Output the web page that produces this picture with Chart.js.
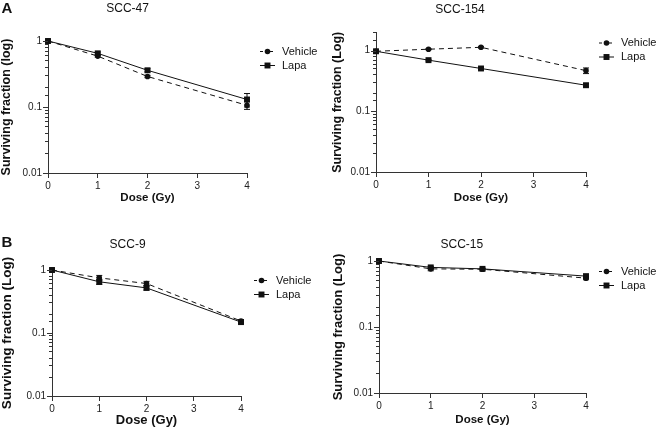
<!DOCTYPE html>
<html><head><meta charset="utf-8">
<script src="https://cdn.jsdelivr.net/npm/chart.js"></script>
<style>
html,body{margin:0;padding:0;background:#fff;}
#wrap{position:relative;width:660px;height:427px;overflow:hidden;}
#wrap canvas{position:absolute;left:0;top:0;}
</style></head><body>
<div id="wrap">
<canvas id="c0" width="660" height="427"></canvas>
<canvas id="c1" width="660" height="427"></canvas>
<canvas id="c2" width="660" height="427"></canvas>
<canvas id="c3" width="660" height="427"></canvas>
</div>
<script>
// ---- data ----
const doses = [0, 1, 2, 4];
const doseTicks = [0, 1, 2, 3, 4];
const seriesNames = ['Vehicle', 'Lapa'];
const panelTitles = ['SCC-47', 'SCC-154', 'SCC-9', 'SCC-15'];

const scc47Vehicle    = [1.00, 0.59, 0.29, 0.106];
const scc47VehicleErr = [0, 0.02, 0.012, 0.014];
const scc47Lapa       = [1.00, 0.65, 0.36, 0.13];
const scc47LapaErr    = [0, 0.03, 0.02, 0.03];

const scc154Vehicle    = [0.98, 1.06, 1.14, 0.47];
const scc154VehicleErr = [0, 0.02, 0.03, 0.05];
const scc154Lapa       = [0.98, 0.70, 0.51, 0.27];
const scc154LapaErr    = [0, 0.02, 0.02, 0.015];

const scc9Vehicle    = [1.00, 0.75, 0.61, 0.155];
const scc9VehicleErr = [0, 0.07, 0.05, 0.008];
const scc9Lapa       = [1.00, 0.65, 0.52, 0.149];
const scc9LapaErr    = [0, 0.06, 0.04, 0.008];

const scc15Vehicle    = [1.00, 0.76, 0.75, 0.55];
const scc15VehicleErr = [0, 0.05, 0.02, 0.03];
const scc15Lapa       = [1.00, 0.80, 0.76, 0.59];
const scc15LapaErr    = [0, 0.03, 0.02, 0.02];

// ---- layout / style ----
const FONT = "'Liberation Sans', Arial, Helvetica, sans-serif";
const INK = '#111';
const AXIS = '#333';

const panels = [
  {canvas:'c0', title:panelTitles[0], letter:'A', letterY:9, left:48, right:247, top:41, bottom:173, yMax:1, titleY:9,
   yTitle:'Surviving fraction (log)', yTitleSize:12.5, yTitleX:7, xTitleSize:11.5, xTitleY:198,
   veh:scc47Vehicle, vehErr:scc47VehicleErr, lapa:scc47Lapa, lapaErr:scc47LapaErr},
  {canvas:'c1', title:panelTitles[1], letter:null, left:376, right:586, top:32.5, bottom:172, yMax:2, titleY:10,
   yTitle:'Surviving fraction (Log)', yTitleSize:12.5, yTitleX:338, xTitleSize:11.5, xTitleY:198,
   veh:scc154Vehicle, vehErr:scc154VehicleErr, lapa:scc154Lapa, lapaErr:scc154LapaErr},
  {canvas:'c2', title:panelTitles[2], letter:'B', letterY:243, left:52, right:241, top:270, bottom:396, yMax:1, titleY:245,
   yTitle:'Surviving fraction (Log)', yTitleSize:13.5, yTitleX:7, xTitleSize:13, xTitleY:420,
   veh:scc9Vehicle, vehErr:scc9VehicleErr, lapa:scc9Lapa, lapaErr:scc9LapaErr},
  {canvas:'c3', title:panelTitles[3], letter:null, left:379, right:586, top:261, bottom:393, yMax:1, titleY:245,
   yTitle:'Surviving fraction (Log)', yTitleSize:13, yTitleX:338, xTitleSize:11.5, xTitleY:420,
   veh:scc15Vehicle, vehErr:scc15VehicleErr, lapa:scc15Lapa, lapaErr:scc15LapaErr}
];

function isPow10(v){ const l = Math.log10(v); return Math.abs(l - Math.round(l)) < 1e-9; }
function fmtPow10(v){ const e = Math.round(Math.log10(v)); return e < 0 ? v.toFixed(-e) : String(Math.round(v)); }

function drawMarker(ctx, style, r, x, y){
  ctx.beginPath();
  if (style === 'rect') { const s = Math.SQRT1_2 * r; ctx.rect(x - s, y - s, 2*s, 2*s); }
  else { ctx.arc(x, y, r, 0, Math.PI*2); }
  ctx.fill();
}

function decoPlugin(p){
  return {
    id:'deco',
    afterDatasetsDraw(chart){
      const ctx = chart.ctx, xs = chart.scales.x, ys = chart.scales.y;
      ctx.save();
      ctx.strokeStyle = INK; ctx.lineWidth = 1; ctx.setLineDash([]);
      chart.data.datasets.forEach(ds => {
        ds.data.forEach((pt, j) => {
          const e = ds.errors[j];
          if (!e) return;
          const px = xs.getPixelForValue(pt.x);
          const y1 = ys.getPixelForValue(pt.y + e), y2 = ys.getPixelForValue(pt.y - e);
          ctx.beginPath();
          ctx.moveTo(px, y1); ctx.lineTo(px, y2);
          ctx.moveTo(px - 3, y1); ctx.lineTo(px + 3, y1);
          ctx.moveTo(px - 3, y2); ctx.lineTo(px + 3, y2);
          ctx.stroke();
        });
      });
      ctx.restore();
    },
    afterDraw(chart){
      const ctx = chart.ctx, ca = chart.chartArea, ys = chart.scales.y;
      ctx.save();
      // major ticks on log axis
      ctx.strokeStyle = AXIS; ctx.lineWidth = 1;
      ys.ticks.forEach(t => {
        if (!isPow10(t.value)) return;
        const py = Math.round(ys.getPixelForValue(t.value)) + 0.5;
        ctx.beginPath(); ctx.moveTo(ys.right - 5, py); ctx.lineTo(ys.right, py); ctx.stroke();
      });
      // panel title
      ctx.fillStyle = INK;
      ctx.font = '12px ' + FONT;
      ctx.textAlign = 'center'; ctx.textBaseline = 'middle';
      ctx.fillText(p.title, ca.left + 0.4*(ca.right - ca.left), p.titleY);
      if (p.letter) {
        ctx.font = 'bold 15px ' + FONT;
        ctx.fillText(p.letter, 7, p.letterY);
      }
      // legend
      ctx.textAlign = 'left';
      ctx.font = '11px ' + FONT;
      chart.data.datasets.forEach((ds, i) => {
        const x0 = ca.right + 13, y0 = ca.top + 10 + i*14;
        ctx.strokeStyle = INK; ctx.lineWidth = 1;
        ctx.setLineDash(ds.borderDash ? [3,2] : []);
        ctx.beginPath(); ctx.moveTo(x0, y0 + 0.5); ctx.lineTo(x0 + 15, y0 + 0.5); ctx.stroke();
        ctx.setLineDash([]);
        ctx.fillStyle = INK;
        drawMarker(ctx, ds.pointStyle, ds.pointRadius, x0 + 7.5, y0 + 0.5);
        ctx.fillText(ds.label, x0 + 22, y0 + 0.5);
      });
      ctx.restore();
    }
  };
}

function makeChart(p){
  const padLeft = Math.max(0, p.yTitleX - p.yTitleSize/2);
  const padBottom = Math.max(0, 427 - p.xTitleY - p.xTitleSize/2);
  const mk = (vals) => doses.map((d, i) => ({x:d, y:vals[i]}));
  new Chart(document.getElementById(p.canvas), {
    type:'line',
    data:{datasets:[
      {label:seriesNames[0], data:mk(p.veh), errors:p.vehErr, borderColor:INK, backgroundColor:INK,
       borderWidth:1, borderDash:[5,4], pointStyle:'circle', pointRadius:2.8, pointBorderWidth:0, tension:0, clip:false},
      {label:seriesNames[1], data:mk(p.lapa), errors:p.lapaErr, borderColor:INK, backgroundColor:INK,
       borderWidth:1, pointStyle:'rect', pointRadius:4.2, pointBorderWidth:0, tension:0, clip:false}
    ]},
    options:{
      responsive:false, animation:false, devicePixelRatio:1, events:[],
      layout:{padding:{left:padLeft, top:p.top, right:660 - p.right, bottom:padBottom}},
      plugins:{legend:{display:false}, tooltip:{enabled:false}, title:{display:false}},
      scales:{
        x:{type:'linear', min:0, max:4,
           afterBuildTicks:(s) => { s.ticks = doseTicks.map(v => ({value:v})); },
           afterFit:(s) => { s.height = (427 - padBottom) - p.bottom; },
           ticks:{color:'#222', font:{family:FONT, size:10}, padding:2, autoSkip:false, maxRotation:0},
           grid:{drawOnChartArea:false, tickLength:5, color:AXIS},
           border:{display:true, color:AXIS, width:1},
           title:{display:true, text:'Dose (Gy)', color:INK, padding:0, font:{family:FONT, size:p.xTitleSize, weight:'bold', lineHeight:1}}},
        y:{type:'logarithmic', min:0.01, max:p.yMax,
           afterFit:(s) => { s.width = p.left - padLeft; },
           ticks:{color:'#222', font:{family:FONT, size:10}, padding:3, autoSkip:false,
                  callback:(v) => isPow10(v) ? fmtPow10(v) : ''},
           grid:{drawOnChartArea:false, tickLength:3, color:AXIS},
           border:{display:true, color:AXIS, width:1},
           title:{display:true, text:p.yTitle, color:INK, padding:0, font:{family:FONT, size:p.yTitleSize, weight:'bold', lineHeight:1}}}
      }
    },
    plugins:[decoPlugin(p)]
  });
}

panels.forEach(makeChart);
</script>
</body></html>
